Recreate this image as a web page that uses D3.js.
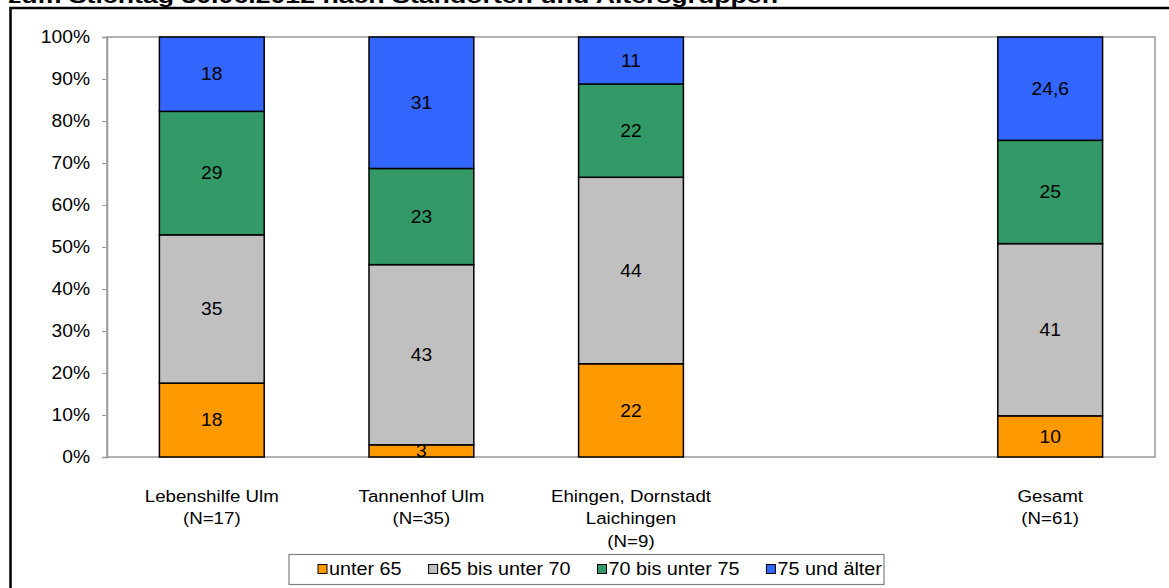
<!DOCTYPE html>
<html>
<head>
<meta charset="utf-8">
<script src="https://cdn.jsdelivr.net/npm/d3@7"></script>
<style>
  html, body { margin: 0; padding: 0; background: #fff; }
  svg { display: block; font-family: "Liberation Sans", Arial, sans-serif; }
</style>
</head>
<body>
<svg id="chart" width="1169" height="588"></svg>
<script>
// ---- data ----
const titleText = "zum Stichtag 30.06.2012 nach Standorten und Altersgruppen";
const categories = ["Lebenshilfe", "Tannenhof", "Ehingen", "leer", "Gesamt"];
const categoryLines = [
  ["Lebenshilfe Ulm", "(N=17)"],
  ["Tannenhof Ulm", "(N=35)"],
  ["Ehingen, Dornstadt", "Laichingen", "(N=9)"],
  [],
  ["Gesamt", "(N=61)"]
];
const seriesNames = ["unter 65", "65 bis unter 70", "70 bis unter 75", "75 und älter"];
const seriesColors = ["#FF9900", "#C0C0C0", "#339966", "#3366FF"];
const valuesUnter65 = [17.6, 2.9, 22.2, 0, 9.8];
const values65bis70 = [35.3, 42.9, 44.4, 0, 41.0];
const values70bis75 = [29.4, 22.9, 22.2, 0, 24.6];
const values75plus  = [17.7, 31.3, 11.2, 0, 24.6];
const labelsUnter65 = ["18", "3", "22", "", "10"];
const labels65bis70 = ["35", "43", "44", "", "41"];
const labels70bis75 = ["29", "23", "22", "", "25"];
const labels75plus  = ["18", "31", "11", "", "24,6"];
const yTicks = [0, 10, 20, 30, 40, 50, 60, 70, 80, 90, 100];

// ---- build ----
const SX = 1.1; // horizontal stretch of the original's lettering
const seriesValues = [valuesUnter65, values65bis70, values70bis75, values75plus];
const seriesLabels = [labelsUnter65, labels65bis70, labels70bis75, labels75plus];
const rows = categories.map((c, i) => {
  const r = { cat: c };
  seriesNames.forEach((s, j) => r[s] = seriesValues[j][i]);
  return r;
});

const svg = d3.select("#chart");
const plot = { left: 107, right: 1155, top: 37, bottom: 457 };

// title (cut off at the top, as in the original)
svg.append("text")
  .attr("x", 8).attr("y", 3)
  .attr("font-size", 20).attr("font-weight", "bold")
  .attr("textLength", 770).attr("lengthAdjust", "spacingAndGlyphs")
  .text(titleText);

// outer frame
svg.append("path")
  .attr("d", `M10.5,600 L10.5,8 L1180,8`)
  .attr("fill", "none").attr("stroke", "#000").attr("stroke-width", 2.5);

const x = d3.scaleBand().domain(categories).range([plot.left, plot.right]).paddingInner(0.5).paddingOuter(0.25);
const y = d3.scaleLinear().domain([0, 100]).range([plot.bottom, plot.top]);

// plot area border
svg.append("rect")
  .attr("x", plot.left).attr("y", plot.top)
  .attr("width", plot.right - plot.left).attr("height", plot.bottom - plot.top)
  .attr("fill", "#fff").attr("stroke", "#999").attr("stroke-width", 1.5);

// y axis
const yAxis = svg.append("g")
  .attr("transform", `translate(${plot.left},0)`)
  .call(d3.axisLeft(y).tickValues(yTicks).tickFormat(d => d + "%").tickSize(5).tickPadding(12));
yAxis.select(".domain").attr("stroke", "#999").attr("stroke-width", 1.5);
yAxis.selectAll(".tick line").attr("stroke", "#999");
yAxis.selectAll(".tick text")
  .attr("font-size", 17.5).attr("fill", "#000")
  .attr("font-family", "Liberation Sans, Arial, sans-serif")
  .attr("x", -17 / SX)
  .attr("transform", `scale(${SX},1)`);

// stacked bars
const stacked = d3.stack().keys(seriesNames)(rows);

const layers = svg.append("g").selectAll("g")
  .data(stacked).join("g")
  .attr("fill", (d, i) => seriesColors[i]);

layers.selectAll("rect")
  .data(d => d.map(p => ({ p, key: d.key })).filter(o => o.p[1] - o.p[0] > 0))
  .join("rect")
  .attr("x", o => x(o.p.data.cat))
  .attr("width", x.bandwidth())
  .attr("y", o => y(Math.min(100, o.p[1])))
  .attr("height", o => y(o.p[0]) - y(Math.min(100, o.p[1])))
  .attr("stroke", "#000").attr("stroke-width", 1.5);

// data labels
stacked.forEach((layer, j) => {
  svg.append("g").selectAll("text")
    .data(layer.map((p, i) => ({ p, label: seriesLabels[j][i] })).filter(o => o.label !== ""))
    .join("text")
    .attr("transform", o => `translate(${x(o.p.data.cat) + x.bandwidth() / 2},${(y(o.p[0]) + y(Math.min(100, o.p[1]))) / 2}) scale(${SX},1)`)
    .attr("dy", "0.35em")
    .attr("text-anchor", "middle")
    .attr("font-size", 17.5)
    .attr("fill", "#000")
    .text(o => o.label);
});

// category labels
const catG = svg.append("g");
categories.forEach((c, i) => {
  const cx = x(c) + x.bandwidth() / 2;
  const t = catG.append("text")
    .attr("transform", `translate(${cx},502) scale(${SX},1)`)
    .attr("text-anchor", "middle")
    .attr("font-size", 17)
    .attr("fill", "#000");
  categoryLines[i].forEach((line, k) => {
    t.append("tspan").attr("x", 0).attr("y", k * 22.5).text(line);
  });
});

// legend
const legend = svg.append("g");
legend.append("rect")
  .attr("x", 289).attr("y", 554.5).attr("width", 595).attr("height", 30)
  .attr("fill", "#fff").attr("stroke", "#808080").attr("stroke-width", 1.2);
let lx = 318;
seriesNames.forEach((s, i) => {
  legend.append("rect")
    .attr("x", lx).attr("y", 564.5).attr("width", 9).attr("height", 9)
    .attr("fill", seriesColors[i]).attr("stroke", "#000").attr("stroke-width", 1);
  const t = legend.append("text")
    .attr("transform", `translate(${lx + 11},569) scale(${SX},1)`)
    .attr("dy", "0.35em")
    .attr("font-size", 18).attr("fill", "#000").text(s);
  lx += 11 + t.node().getComputedTextLength() * SX + 27;
});
</script>
</body>
</html>
